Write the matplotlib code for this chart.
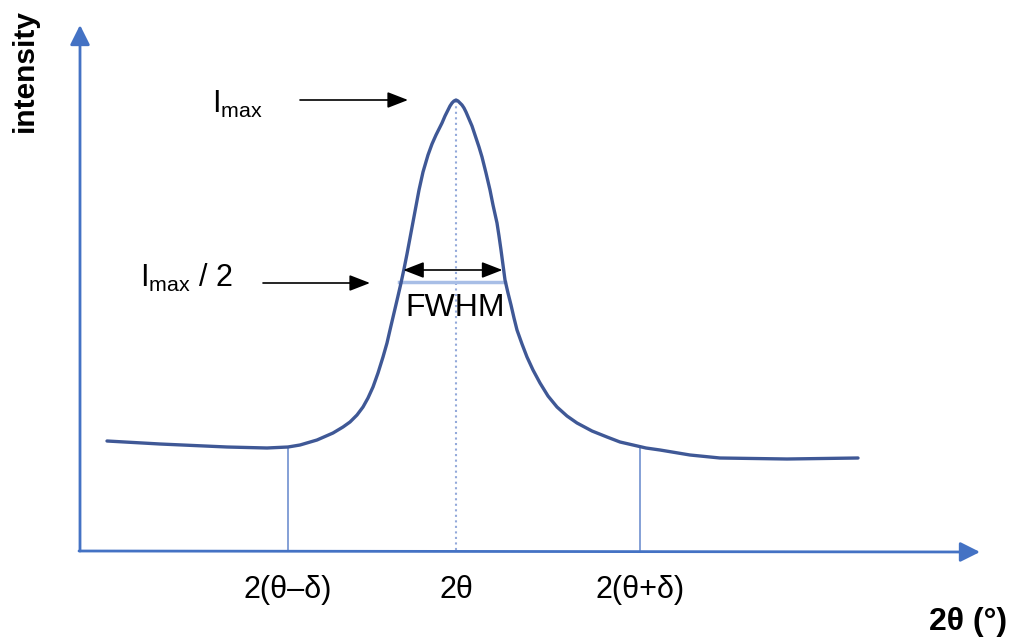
import matplotlib
matplotlib.use('Agg')
import matplotlib.pyplot as plt
import numpy as np

plt.rcParams['font.family'] = ['Liberation Sans', 'DejaVu Sans']
plt.rcParams['mathtext.fontset'] = 'custom'
plt.rcParams['mathtext.rm'] = 'Liberation Sans'
plt.rcParams['mathtext.default'] = 'regular'

# peak profile (arbitrary units)
two_theta = [27, 80, 147, 187, 208, 220, 237, 253, 263, 270,
             277, 283, 288, 293, 298, 303, 307, 310, 314, 318,
             321, 324, 327, 330, 333, 336, 339, 343, 348,
             352, 356, 359, 362, 365, 368, 370, 372, 374, 376,
             378, 380, 382, 384, 386, 389, 392, 396, 399, 402,
             406, 410, 413, 417, 419, 421, 423, 425, 428, 431,
             434, 437, 442, 447, 453, 460, 468, 477, 487, 497,
             512, 527, 540, 553, 566, 580, 610, 640, 707, 778]
intensity = [109, 106, 103, 102, 103, 105, 110, 117, 123, 128,
             135, 143, 152, 163, 177, 193, 207, 220, 237, 254,
             267, 281, 296, 312, 328, 344, 360, 378, 395,
             406, 415, 421, 427, 434, 440, 444, 447, 449, 450,
             449, 447, 445, 442, 438, 431, 424, 412, 403, 393,
             377, 360, 345, 327, 314, 300, 285, 270, 257, 245,
             232, 220, 206, 193, 180, 167, 154, 143, 134, 127,
             119, 113, 108, 105, 102, 100, 95, 92, 91, 92]

tick_pos = [208, 376, 560]
tick_labels = ['2(θ–δ)', '2θ', '2(θ+δ)']
half_level = 268   # level of the FWHM bar

axis_c = '#4472C4'
curve_c = '#3F5896'

fig = plt.figure(figsize=(10.16, 6.39), dpi=100)
ax = fig.add_axes([0, 0, 1, 1])
ax.set_xlim(-80, 936)
ax.set_ylim(-89, 550)
ax.axis('off')

x = np.array(two_theta)
y = np.array(intensity)
ipk = int(np.argmax(y))
peak_x, imax = x[ipk], y[ipk]
i0 = int(np.argmin(y[:ipk]))
i1 = ipk + int(np.argmin(y[ipk:]))

# axes with arrow heads
ax.annotate('', xy=(0, 525), xytext=(0, -1),
            arrowprops=dict(arrowstyle='-|>,head_length=0.8,head_width=0.4',
                            color=axis_c, lw=2, mutation_scale=15, shrinkA=0, shrinkB=0))
ax.annotate('', xy=(900, -2), xytext=(-1, -1),
            arrowprops=dict(arrowstyle='-|>,head_length=0.8,head_width=0.4',
                            color=axis_c, lw=2, mutation_scale=15, shrinkA=0, shrinkB=0))

# guide lines
for p in (tick_pos[0], tick_pos[2]):
    ax.plot([p, p], [0, np.interp(p, x, y)], color='#7090D0', lw=1.2, zorder=1)
ax.plot([peak_x, peak_x], [0, imax], color='#93A9DA', lw=1.5, ls=':', zorder=1)

# half maximum bar
left = np.interp(half_level, y[i0:ipk + 1], x[i0:ipk + 1])
right = np.interp(half_level, y[ipk:i1 + 1][::-1], x[ipk:i1 + 1][::-1])
ax.plot([left - 2, right], [half_level, half_level], color='#A8BEE6', lw=2.5, zorder=1)

ax.plot(x, y, color=curve_c, lw=2.4, solid_capstyle='round', solid_joinstyle='round', zorder=3)

head = dict(arrowstyle='-|>,head_length=0.9,head_width=0.35', color='black',
            lw=1.2, mutation_scale=14, shrinkA=0, shrinkB=0)
ax.annotate('', xy=(right - 3, half_level + 12), xytext=(left + 2, half_level + 12),
            arrowprops=dict(head, arrowstyle='<|-|>,head_length=0.9,head_width=0.35'))
ax.annotate('', xy=(peak_x - 48, imax), xytext=(220, imax), arrowprops=head)
ax.annotate('', xy=(290, half_level - 1), xytext=(183, half_level - 1), arrowprops=head)

ax.text(132, 437, '$I_{max}$', fontsize=22, va='baseline', ha='left')
ax.text(60, 263, '$I_{max}$ / 2', fontsize=22, va='baseline', ha='left')
ax.text(peak_x - 1, 242, 'FWHM', fontsize=23, ha='center', va='center')

for p, lab in zip(tick_pos, tick_labels):
    ax.text(p, -40, lab, fontsize=22, ha='center', va='center')

ax.text(-55, 480, 'intensity', fontsize=21.5, fontweight='bold', rotation=90,
        ha='center', va='center')
ax.text(888, -72, '2θ (°)', fontsize=23, fontweight='bold', ha='center', va='center')

fig.savefig('out.png', dpi=100)
